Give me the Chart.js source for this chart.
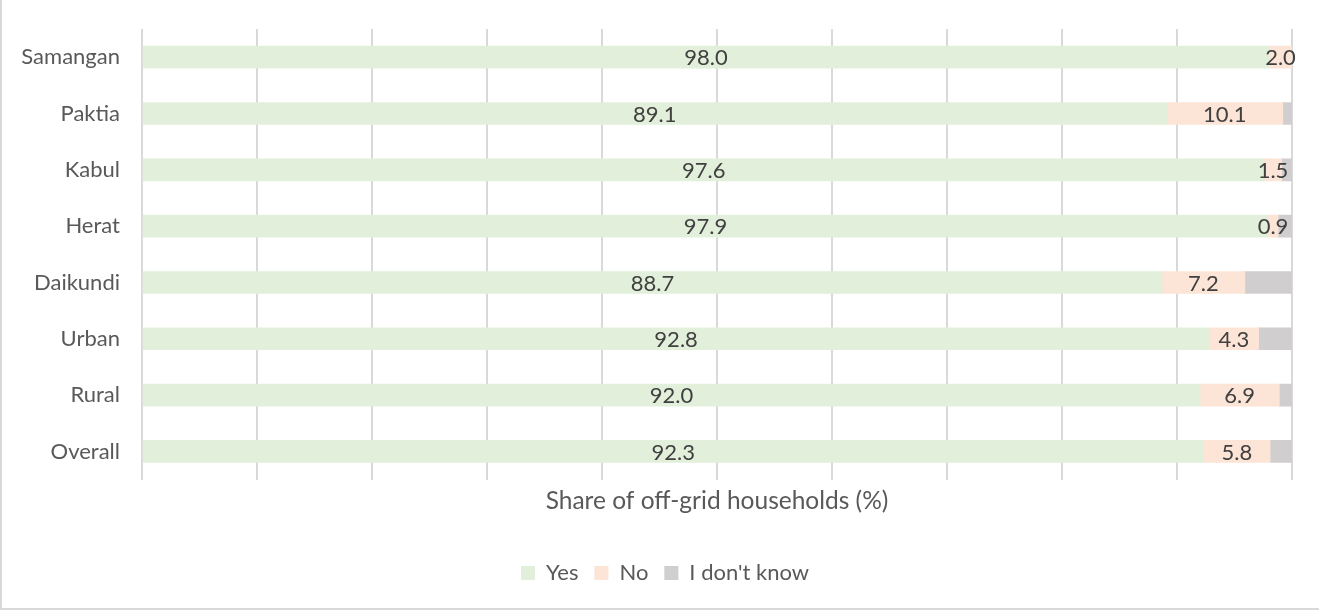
<!DOCTYPE html>
<html lang="en">
<head>
    <meta charset="UTF-8">
    <title>Share of off-grid households</title>
    <script src="https://cdn.jsdelivr.net/npm/chart.js"></script>
    <style>
        html, body {
            margin: 0;
            padding: 0;
            background: #fff;
        }

        .frame {
            position: relative;
            width: 1318px;
            height: 608px;
            border-left: 2px solid #d9d9d9;
            border-bottom: 2px solid #d9d9d9;
        }
    </style>
</head>
<body>
    <div class="frame">
        <canvas id="offGridChart"></canvas>
    </div>

    <script>
        const regions = ['Samangan', 'Paktia', 'Kabul', 'Herat', 'Daikundi', 'Urban', 'Rural', 'Overall'];
        const yesShare = [98.0, 89.1, 97.6, 97.9, 88.7, 92.8, 92.0, 92.3];
        const noShare = [2.0, 10.1, 1.5, 0.9, 7.2, 4.3, 6.9, 5.8];
        const dontKnowShare = [0.0, 0.8, 0.9, 1.2, 4.1, 2.9, 1.1, 1.9];

        const textColor = '#404040';
        const fontFamily = 'Lato, "Open Sans", sans-serif';

        // writes the value in the middle of each labelled segment
        const segmentLabels = {
            id: 'segmentLabels',
            afterDatasetsDraw(chart) {
                const ctx = chart.ctx;
                ctx.save();
                ctx.font = '22px ' + fontFamily;
                ctx.fillStyle = textColor;
                ctx.textAlign = 'center';
                ctx.textBaseline = 'middle';
                chart.data.datasets.forEach((ds, i) => {
                    if (!ds.showValues) return;
                    chart.getDatasetMeta(i).data.forEach((bar, j) => {
                        const v = ds.data[j];
                        if (!v) return;
                        const mid = (bar.x + bar.base) / 2;
                        ctx.fillText(v.toFixed(1), mid, bar.y + 1);
                    });
                });
                ctx.restore();
            }
        };

        // nudge the legend so it sits under the plot area rather than the canvas centre
        const legendShift = {
            id: 'legendShift',
            afterLayout(chart) {
                const lg = chart.legend;
                if (!lg) return;
                lg.left += 18;
                lg.right += 18;
            }
        };

        new Chart(document.getElementById('offGridChart'), {
            type: 'bar',
            data: {
                labels: regions,
                datasets: [
                    { label: 'Yes', data: yesShare, backgroundColor: '#e2efda', showValues: true },
                    { label: 'No', data: noShare, backgroundColor: '#fce4d6', showValues: true },
                    { label: "I don't know", data: dontKnowShare, backgroundColor: '#d0cece', showValues: false }
                ]
            },
            options: {
                indexAxis: 'y',
                responsive: true,
                maintainAspectRatio: false,
                animation: false,
                barThickness: 22,
                layout: {
                    padding: { top: 29, right: 28, bottom: 14, left: 0 }
                },
                scales: {
                    x: {
                        stacked: true,
                        min: 0,
                        max: 100,
                        ticks: { display: false, stepSize: 10 },
                        grid: { color: '#d9d9d9', lineWidth: 2, drawTicks: false },
                        border: { display: false },
                        title: {
                            display: true,
                            text: 'Share of off-grid households (%)',
                            color: '#595959',
                            font: { family: fontFamily, size: 24.5 },
                            padding: { top: 7, bottom: 30 }
                        }
                    },
                    y: {
                        stacked: true,
                        grid: { display: false, drawTicks: false },
                        border: { display: false },
                        ticks: {
                            color: '#595959',
                            padding: 22,
                            font: { family: fontFamily, size: 22 }
                        },
                        afterFit(scale) {
                            scale.width = 140;
                            scale.paddingTop = 0;
                            scale.paddingBottom = 0;
                        }
                    }
                },
                plugins: {
                    legend: {
                        position: 'bottom',
                        labels: {
                            color: '#595959',
                            font: { family: fontFamily, size: 22 },
                            boxWidth: 14,
                            boxHeight: 14,
                            padding: 16
                        }
                    },
                    tooltip: { enabled: false }
                }
            },
            plugins: [segmentLabels, legendShift]
        });
    </script>
</body>
</html>
